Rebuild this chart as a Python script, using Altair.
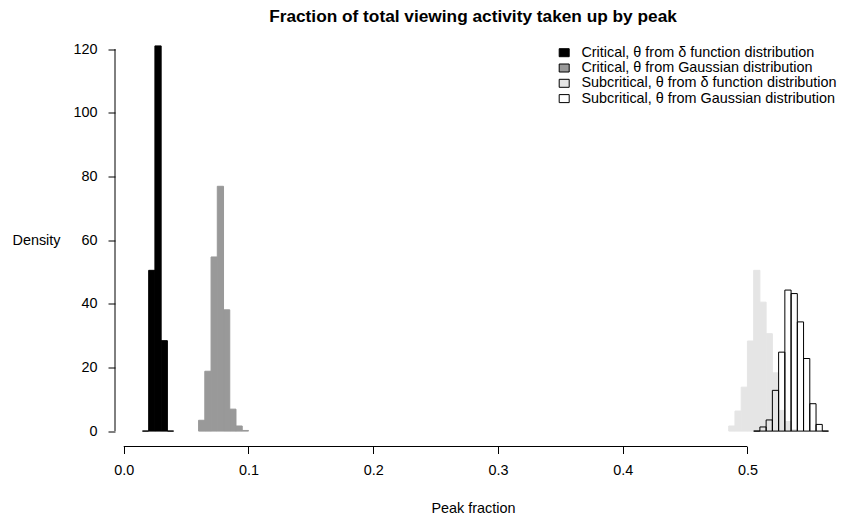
import altair as alt
import pandas as pd

# ---- data ----
series_names = [
    "Critical, θ from δ function distribution",
    "Critical, θ from Gaussian distribution",
    "Subcritical, θ from δ function distribution",
    "Subcritical, θ from Gaussian distribution",
]
fill_colors = ["#000000", "#999999", "#E5E5E5", "#FFFFFF"]
edge_colors = ["#000000", "#999999", "#E5E5E5", "#000000"]
fill_opacity = [1, 1, 1, 0]
bin_width = 0.005

crit_delta_left = [0.015, 0.020, 0.025, 0.030, 0.035]
crit_delta_density = [0.0, 50.5, 121.0, 28.4, 0.0]

crit_gauss_left = [0.060, 0.065, 0.070, 0.075, 0.080, 0.085, 0.090, 0.095]
crit_gauss_density = [3.4, 18.8, 54.7, 76.9, 38.1, 6.9, 1.6, 0.2]

sub_delta_left = [0.485, 0.490, 0.495, 0.500, 0.505, 0.510, 0.515, 0.520, 0.525, 0.530, 0.535]
sub_delta_density = [1.6, 6.3, 13.8, 28.3, 50.5, 40.5, 30.6, 18.3, 6.5, 3.0, 0.5]

sub_gauss_left = [0.505, 0.510, 0.515, 0.520, 0.525, 0.530, 0.535, 0.540, 0.545, 0.550, 0.555, 0.560]
sub_gauss_density = [0.0, 1.3, 3.5, 12.8, 24.8, 44.3, 43.2, 34.3, 22.8, 8.6, 2.1, 0.0]

x_ticks = [0.0, 0.1, 0.2, 0.3, 0.4, 0.5]
y_ticks = [0, 20, 40, 60, 80, 100, 120]

# ---- table ----
rows = []
groups = [
    (crit_delta_left, crit_delta_density),
    (crit_gauss_left, crit_gauss_density),
    (sub_delta_left, sub_delta_density),
    (sub_gauss_left, sub_gauss_density),
]
for i, (lefts, dens) in enumerate(groups):
    for l, d in zip(lefts, dens):
        rows.append(dict(series=series_names[i], x0=l, x1=round(l + bin_width, 4),
                         density=d, edge=edge_colors[i], fo=fill_opacity[i], base=0.0))
df = pd.DataFrame(rows)

W, H = 716, 416
FONT = "Liberation Sans"
FS = 14.4
x_scale = alt.Scale(domain=[-0.007, 0.567], nice=False, zero=False)
y_scale = alt.Scale(domain=[-4.84, 125.84], nice=False, zero=False)

x_axis = alt.Axis(values=x_ticks, format=".1f", domain=False, grid=False,
                  tickSize=7, tickColor="black", labelPadding=10,
                  labelFontSize=FS, labelFont=FONT, labelColor="black",
                  title="Peak fraction", titleY=62, titleBaseline="middle",
                  titleFontSize=FS, titleFont=FONT, titleFontWeight="normal",
                  titleColor="black")
y_axis = alt.Axis(values=y_ticks, format="d", domain=False, grid=False,
                  tickSize=7, tickColor="black", labelPadding=11,
                  labelFontSize=FS, labelFont=FONT, labelColor="black",
                  title="Density", titleAngle=0, titleX=-55, titleY=209.5,
                  titleAlign="right", titleBaseline="middle",
                  titleFontSize=FS, titleFont=FONT, titleFontWeight="normal",
                  titleColor="black")

bars = alt.Chart(df).mark_bar(strokeWidth=1).encode(
    x=alt.X("x0:Q", scale=x_scale, axis=x_axis),
    x2="x1:Q",
    y=alt.Y("density:Q", scale=y_scale, axis=y_axis),
    y2="base:Q",
    fill=alt.Fill("series:N",
                  scale=alt.Scale(domain=series_names, range=fill_colors),
                  legend=alt.Legend(title=None, orient="none", legendX=442, legendY=15,
                                    symbolType="M-1,-0.8L1,-0.8L1,0.8L-1,0.8Z",
                                    symbolSize=100,
                                    symbolStrokeColor="black", symbolStrokeWidth=1,
                                    symbolOpacity=1,
                                    labelFontSize=FS, labelFont=FONT, labelColor="black",
                                    labelOffset=10, labelLimit=400, rowPadding=0.3,
                                    padding=0)),
    stroke=alt.Stroke("edge:N", scale=None),
    fillOpacity=alt.FillOpacity("fo:Q", scale=None),
    order=alt.Order("fo:Q", sort="descending"),
)

xline_df = pd.DataFrame({"a": [min(x_ticks)], "b": [max(x_ticks)]})
yline_df = pd.DataFrame({"a": [min(y_ticks)], "b": [max(y_ticks)]})

xline = alt.Chart(xline_df).mark_rule(color="black", strokeWidth=1).encode(
    x=alt.X("a:Q", scale=x_scale, axis=x_axis), x2="b:Q", y=alt.value(H))
yline = alt.Chart(yline_df).mark_rule(color="black", strokeWidth=1).encode(
    y=alt.Y("a:Q", scale=y_scale, axis=y_axis), y2="b:Q", x=alt.value(0))

chart = alt.layer(bars, xline, yline).properties(
    width=W, height=H,
    title=alt.Title("Fraction of total viewing activity taken up by peak",
                    fontSize=17.28, fontWeight="bold", font=FONT, color="black",
                    anchor="middle", offset=5.5),
    padding={"left": 107, "top": 22.5, "right": 10, "bottom": 70},
    autosize="none",
).configure_view(stroke=None)

chart.save("out.html", embed_options={"renderer": "svg", "actions": False})
